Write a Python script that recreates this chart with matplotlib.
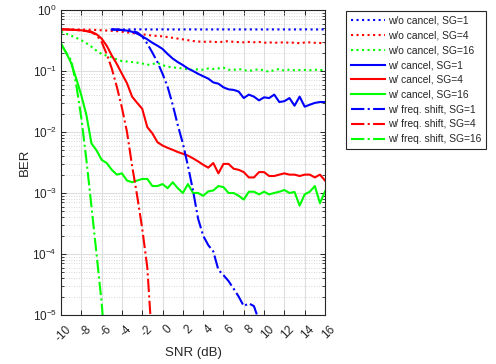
import numpy as np
import matplotlib
matplotlib.use("Agg")
import matplotlib.pyplot as plt
from matplotlib.ticker import LogLocator, NullFormatter, FixedLocator, NullLocator
from matplotlib.transforms import ScaledTranslation

plt.rcParams['font.family'] = ['Liberation Sans', 'DejaVu Sans']
plt.rcParams['mathtext.fontset'] = 'custom'
plt.rcParams['mathtext.rm'] = 'Liberation Sans'
plt.rcParams['mathtext.it'] = 'Liberation Sans:italic'
plt.rcParams['mathtext.bf'] = 'Liberation Sans:bold'
plt.rcParams['axes.unicode_minus'] = False

# ---------------- data ----------------
snr_full = [-10, -9.5, -9, -8.5, -8, -7.5, -7, -6.5, -6, -5.5, -5, -4.5, -4, -3.5, -3, -2.5,
            -2, -1.5, -1, -0.5, 0, 0.5, 1, 1.5, 2, 2.5, 3, 3.5, 4, 4.5, 5, 5.5, 6, 6.5, 7,
            7.5, 8, 8.5, 9, 9.5, 10, 10.5, 11, 11.5, 12, 12.5, 13, 13.5, 14, 14.5, 15, 15.5, 16]
snr_from_m5 = [-5, -4.5, -4, -3.5, -3, -2.5, -2, -1.5, -1, -0.5, 0, 0.5, 1, 1.5, 2, 2.5, 3,
               3.5, 4, 4.5, 5, 5.5, 6, 6.5, 7, 7.5, 8, 8.5, 9, 9.5, 10, 10.5, 11, 11.5, 12,
               12.5, 13, 13.5, 14, 14.5, 15, 15.5, 16]

wo_sg1 = [0.48, 0.481, 0.48, 0.479, 0.48, 0.481, 0.48, 0.48, 0.479, 0.48, 0.481, 0.48, 0.48,
          0.479, 0.48, 0.48, 0.481, 0.48, 0.479, 0.48, 0.48, 0.481, 0.48, 0.48, 0.479, 0.48,
          0.48, 0.481, 0.48, 0.479, 0.48, 0.48, 0.481, 0.48, 0.48, 0.479, 0.48, 0.48, 0.481,
          0.48, 0.479, 0.48, 0.48]
wo_sg4 = [0.48, 0.48, 0.48, 0.48, 0.478, 0.476, 0.474, 0.47, 0.465, 0.46, 0.455, 0.45, 0.44,
          0.43, 0.42, 0.41, 0.40, 0.39, 0.38, 0.375, 0.37, 0.36, 0.35, 0.34, 0.33, 0.32, 0.31,
          0.305, 0.30, 0.305, 0.30, 0.298, 0.302, 0.31, 0.30, 0.298, 0.295, 0.30, 0.296, 0.30,
          0.29, 0.295, 0.29, 0.293, 0.295, 0.29, 0.292, 0.285, 0.293, 0.295, 0.29, 0.288, 0.284]
wo_sg16 = [0.44, 0.41, 0.38, 0.35, 0.32, 0.285, 0.25, 0.215, 0.19, 0.178, 0.168, 0.155, 0.145,
           0.143, 0.14, 0.137, 0.133, 0.126, 0.13, 0.136, 0.125, 0.118, 0.115, 0.112, 0.11,
           0.106, 0.104, 0.107, 0.105, 0.11, 0.108, 0.11, 0.113, 0.105, 0.104, 0.108, 0.104,
           0.1, 0.104, 0.107, 0.102, 0.097, 0.104, 0.108, 0.101, 0.106, 0.103, 0.104, 0.104,
           0.103, 0.105, 0.103, 0.106]

w_sg1 = [0.48, 0.475, 0.47, 0.46, 0.44, 0.41, 0.37, 0.33, 0.29, 0.26, 0.23, 0.19, 0.16, 0.14,
         0.125, 0.11, 0.1, 0.09, 0.082, 0.075, 0.065, 0.062, 0.054, 0.05, 0.049, 0.046, 0.036,
         0.041, 0.038, 0.033, 0.037, 0.036, 0.041, 0.031, 0.032, 0.036, 0.027, 0.038, 0.026,
         0.028, 0.03, 0.031, 0.031]
w_sg4 = [0.48, 0.48, 0.475, 0.47, 0.465, 0.455, 0.44, 0.40, 0.34, 0.26, 0.18, 0.13, 0.09,
         0.063, 0.038, 0.03, 0.024, 0.012, 0.0095, 0.0068, 0.006, 0.0055, 0.0051, 0.0047,
         0.0044, 0.0041, 0.0037, 0.0033, 0.0029, 0.0026, 0.0031, 0.0021, 0.0030, 0.003,
         0.0025, 0.0024, 0.0022, 0.0018, 0.0018, 0.0022, 0.0022, 0.0019, 0.0019, 0.002,
         0.0021, 0.002, 0.002, 0.0019, 0.002, 0.002, 0.0018, 0.002, 0.0016]
w_sg16 = [0.28, 0.2, 0.135, 0.075, 0.04, 0.019, 0.0065, 0.005, 0.0035, 0.0031, 0.0024, 0.002,
          0.0021, 0.0016, 0.0015, 0.0016, 0.0017, 0.0017, 0.0013, 0.0013, 0.0014, 0.0012,
          0.0015, 0.0012, 0.001, 0.0014, 0.001, 0.001, 0.0009, 0.00106, 0.0011, 0.0013,
          0.00125, 0.001, 0.001, 0.0009, 0.00078, 0.00105, 0.00105, 0.00095, 0.00105,
          0.00095, 0.001, 0.00105, 0.00112, 0.001, 0.00104, 0.00062, 0.00095, 0.00105,
          0.0013, 0.00068, 0.00106]

snr_fs1 = [-5, -4.5, -4, -3.5, -3, -2.5, -2, -1.5, -1, -0.5, 0, 0.5, 1, 1.5, 2, 2.5, 3, 3.5,
           4, 4.5, 5, 5.5, 6, 6.5, 7, 7.5, 8, 8.5, 9, 9.5]
fs_sg1 = [0.48, 0.478, 0.47, 0.46, 0.45, 0.43, 0.37, 0.28, 0.2, 0.14, 0.09, 0.055, 0.028,
          0.013, 0.0065, 0.0028, 0.0011, 0.00038, 0.0002, 0.00014, 0.00011, 5.5e-5, 4.5e-5,
          3.6e-5, 2.7e-5, 2e-5, 1.4e-5, 1.55e-5, 1.4e-5, 8e-6]
snr_fs4 = [-10, -9.5, -9, -8.5, -8, -7.5, -7, -6.5, -6, -5.5, -5, -4.5, -4, -3.5, -3, -2.5,
           -2, -1.5, -1]
fs_sg4 = [0.48, 0.48, 0.475, 0.47, 0.46, 0.45, 0.43, 0.39, 0.3, 0.19, 0.11, 0.055, 0.025,
          0.01, 0.0028, 0.0009, 0.00026, 6e-5, 3e-6]
snr_fs16 = [-10, -9.5, -9, -8.5, -8, -7.5, -7, -6.5, -6, -5.5]
fs_sg16 = [0.28, 0.2, 0.15, 0.06, 0.017, 0.0035, 0.0006, 0.0001, 1.6e-5, 1.5e-6]

xticks = [-10, -8, -6, -4, -2, 0, 2, 4, 6, 8, 10, 12, 14, 16]

BLUE, RED, GREEN = (0, 0, 1), (1, 0, 0), (0, 1, 0)

# ---------------- figure ----------------
fig = plt.figure(figsize=(4.96, 3.64), dpi=100)
ax = fig.add_axes([61/496, 1-315/364, (325-61)/496, (315-10)/364])

lw = 1.5
series = [
    (snr_from_m5, wo_sg1, BLUE, ':', 'w/o cancel, SG=1'),
    (snr_full, wo_sg4, RED, ':', 'w/o cancel, SG=4'),
    (snr_full, wo_sg16, GREEN, ':', 'w/o cancel, SG=16'),
    (snr_from_m5, w_sg1, BLUE, '-', 'w/ cancel, SG=1'),
    (snr_full, w_sg4, RED, '-', 'w/ cancel, SG=4'),
    (snr_full, w_sg16, GREEN, '-', 'w/ cancel, SG=16'),
    (snr_fs1, fs_sg1, BLUE, '-.', 'w/ freq. shift, SG=1'),
    (snr_fs4, fs_sg4, RED, '-.', 'w/ freq. shift, SG=4'),
    (snr_fs16, fs_sg16, GREEN, '-.', 'w/ freq. shift, SG=16'),
]
for x, y, c, ls, lab in series:
    ax.plot(x, y, color=c, linestyle=ls, linewidth=lw, label=lab)

ax.set_yscale('log')
ax.set_xlim(-10, 16)
ax.set_ylim(1e-5, 1)
ax.xaxis.set_major_locator(FixedLocator(xticks))
ax.xaxis.set_minor_locator(NullLocator())
ax.yaxis.set_major_locator(LogLocator(base=10, numticks=10))
ax.yaxis.set_minor_locator(LogLocator(base=10, subs=np.arange(2, 10), numticks=20))
ax.yaxis.set_minor_formatter(NullFormatter())

gray = (0.15, 0.15, 0.15)
ax.grid(True, which='major', color=(0.87, 0.87, 0.87), linewidth=0.8, linestyle='-')
ax.grid(True, which='minor', axis='y', color=(0.8, 0.8, 0.8), linewidth=0.6, linestyle=(0, (1, 2)))
ax.set_axisbelow(True)
for s in ax.spines.values():
    s.set_color(gray)
    s.set_linewidth(0.8)
ax.tick_params(which='both', direction='in', top=True, right=True, colors=gray,
               labelsize=8.5, labelcolor=gray)
ax.tick_params(which='major', length=3.5, width=0.7)
ax.tick_params(which='minor', length=2, width=0.6)
ax.tick_params(axis='x', pad=9)
ax.tick_params(axis='y', pad=3)

ax.set_xticks(xticks)
ax.set_xticklabels([str(t) for t in xticks], rotation=45, ha='right',
                   rotation_mode='anchor', va='center')
off = ScaledTranslation(8/100, 0, fig.dpi_scale_trans)
for lbl in ax.get_xticklabels():
    lbl.set_transform(lbl.get_transform() + off)

ax.set_xlabel('SNR (dB)', fontsize=9.5, color=gray, labelpad=2)
ax.set_ylabel('BER', fontsize=9.5, color=gray, labelpad=1)

leg = ax.legend(loc='upper left', bbox_to_anchor=(346/496, 1-11/364),
                bbox_transform=fig.transFigure, fontsize=7.4, frameon=True,
                fancybox=False, framealpha=1, edgecolor=gray, borderaxespad=0,
                handlelength=3.3, handletextpad=0.35, labelspacing=0.47,
                borderpad=0.45)
leg.get_frame().set_linewidth(0.8)
for t in leg.get_texts():
    t.set_color(gray)

fig.savefig('out.png', dpi=100)
